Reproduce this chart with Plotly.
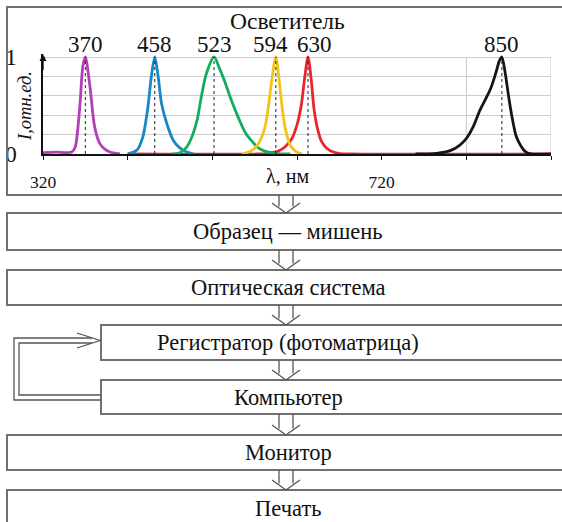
import plotly.graph_objects as go

W, H = 562, 522
SERIF = "Liberation Serif, Times New Roman, serif"

# ---------------- data ----------------
peak_labels = [370, 458, 523, 594, 630, 850]

purple_nm = [320, 335, 354, 358, 361, 364, 367, 370, 375, 381, 387, 393, 399, 411]
purple_I = [0.015, 0.02, 0.02, 0.07, 0.25, 0.55, 0.9, 1.0, 0.73, 0.28, 0.11, 0.05, 0.02, 0.0]

blue_nm = [420, 431, 438, 444, 448, 452, 456, 460, 466, 474, 482, 490, 498]
blue_I = [0.0, 0.04, 0.18, 0.49, 0.8, 1.0, 0.8, 0.52, 0.32, 0.14, 0.06, 0.02, 0.0]

green_nm = [472, 478, 484, 490, 496, 502, 507, 513, 522, 529, 535, 543, 551, 559, 567, 574, 582, 594, 612]
green_I = [0.0, 0.005, 0.025, 0.075, 0.18, 0.35, 0.59, 0.83, 1.0, 0.87, 0.74, 0.54, 0.37, 0.22, 0.13, 0.065, 0.03, 0.007, 0.0]

yellow_nm = [555, 563, 570, 576, 582, 586, 590, 595, 599, 603, 607, 612, 618, 626]
yellow_I = [0.0, 0.02, 0.06, 0.13, 0.27, 0.47, 0.75, 1.0, 0.75, 0.44, 0.23, 0.09, 0.03, 0.0]

red_nm = [420, 574, 586, 598, 606, 614, 620, 625, 629, 633, 637, 640, 644, 649, 655, 663, 671, 683, 920]
red_I = [0.0, 0.0, 0.007, 0.03, 0.075, 0.16, 0.3, 0.5, 0.78, 1.0, 0.75, 0.47, 0.27, 0.13, 0.06, 0.02, 0.005, 0.0, 0.0]

black_nm = [760, 785, 801, 812, 820, 828, 836, 843, 849, 855, 859, 862, 866, 870, 874, 879, 885, 891, 897, 920]
black_I = [0.0, 0.007, 0.035, 0.09, 0.16, 0.28, 0.45, 0.57, 0.68, 0.84, 0.96, 1.0, 0.83, 0.59, 0.38, 0.18, 0.075, 0.015, 0.0, 0.0]

x_ticks = [320, 420, 520, 620, 720, 820, 920]
x_ticktext = ["320", "", "", "", "720", "", ""]
y_ticks = [0, 0.2, 0.4, 0.6, 0.8, 1.0]
y_ticktext = ["0", "", "", "", "", "1"]

flow_labels = ["Образец — мишень", "Оптическая система", "Регистратор (фотоматрица)",
               "Компьютер", "Монитор", "Печать"]

# ---------------- layout geometry (pixels) ----------------
def px(x):
    return x / W

def py(y):
    return 1 - y / H

series = [
    (red_nm, red_I, "#e8252d"),
    (purple_nm, purple_I, "#b23fb4"),
    (blue_nm, blue_I, "#1787c7"),
    (green_nm, green_I, "#12ad5e"),
    (yellow_nm, yellow_I, "#f2c318"),
    (black_nm, black_I, "#151515"),
]
label_series = [purple_nm, blue_nm, green_nm, yellow_nm, red_nm, black_nm]
label_vals = [purple_I, blue_I, green_I, yellow_I, red_I, black_I]
label_shift = [0, 0, 0, -5, 6, 0]

fig = go.Figure()
for xs, ys, col in series:
    fig.add_trace(go.Scatter(x=xs, y=ys, mode="lines",
                             line=dict(color=col, width=2.8, shape="spline", smoothing=0.8),
                             hoverinfo="skip"))

shapes = []
annotations = []

def text_at(x, y, text, size, **kw):
    d = dict(x=px(x), y=py(y), xref="paper", yref="paper", text=text, showarrow=False,
             xanchor="center", yanchor="middle",
             font=dict(family=SERIF, size=size, color="#111"))
    d.update(kw)
    annotations.append(d)

# dotted lines and peak labels
for lab, xs, ys, sh in zip(peak_labels, label_series, label_vals, label_shift):
    i = ys.index(max(ys))
    xp = xs[i]
    shapes.append(dict(type="line", xref="x", yref="y", x0=xp, x1=xp, y0=0, y1=1,
                       line=dict(color="#222", width=1, dash="dot"), layer="above"))
    annotations.append(dict(x=xp, y=1, xref="x", yref="y", text=str(lab), showarrow=False,
                            xanchor="center", yanchor="bottom", yshift=-2, xshift=sh,
                            font=dict(family=SERIF, size=23, color="#111")))

# right border and vertical grid line
for xv in (820, 920):
    shapes.append(dict(type="line", xref="x", yref="y", x0=xv, x1=xv, y0=0, y1=1,
                       line=dict(color="#c9c9c9", width=1), layer="below"))

# y-axis arrow
annotations.append(dict(x=320, y=1.03, xref="x", yref="y", ax=320, ay=0.85, axref="x", ayref="y",
                        text="", showarrow=True, arrowhead=2, arrowsize=1, arrowwidth=1.4,
                        arrowcolor="#111", standoff=0))

BOX = "#707070"
# top box
shapes.append(dict(type="rect", xref="paper", yref="paper", x0=px(7), x1=px(600), y0=py(195), y1=py(7),
                   line=dict(color=BOX, width=2)))

text_at(287, 21, "Осветитель", 23.5)
text_at(287, 176, "λ, нм", 20)
text_at(25, 106, "<i>I,отн.ед.</i>", 18.5, textangle=-90)

# flow boxes
box_geo = [(7, 213, 250), (7, 270, 305), (101, 325, 360), (101, 380, 414), (7, 435, 470), (7, 490, 532)]
for lab, (x0, t, b) in zip(flow_labels, box_geo):
    shapes.append(dict(type="rect", xref="paper", yref="paper", x0=px(x0), x1=px(600),
                       y0=py(b), y1=py(t), line=dict(color=BOX, width=2)))
    ty = (t + b) / 2 if b < 522 else 508
    text_at(288, ty, lab, 22.5)

def path(points):
    return "M " + " L ".join(f"{px(a):.5f},{py(b):.5f}" for a, b in points)

# hollow down arrows
gaps = [(195, 213), (250, 270), (305, 325), (360, 380), (414, 435), (470, 490)]
cx = 286
for t, b in gaps:
    hy = b - 10
    for p in ([(cx - 7, t), (cx - 7, hy + 3.5)], [(cx + 7, t), (cx + 7, hy + 3.5)],
              [(cx - 14, hy), (cx, b), (cx + 14, hy)]):
        shapes.append(dict(type="path", xref="paper", yref="paper", path=path(p),
                           line=dict(color="#555", width=1.3)))

# feedback loop (double line)
loop_paths = [
    [(101, 400), (14, 400), (14, 338), (92, 338)],
    [(101, 395), (19, 395), (19, 343), (92, 343)],
    [(77, 333), (100, 340.5), (77, 348)],
]
for p in loop_paths:
    shapes.append(dict(type="path", xref="paper", yref="paper", path=path(p),
                       line=dict(color="#555", width=1.3)))

fig.update_layout(
    template="none",
    width=W, height=H, margin=dict(l=0, r=0, t=0, b=0, pad=0, autoexpand=False),
    paper_bgcolor="white", plot_bgcolor="white", showlegend=False,
    shapes=shapes, annotations=annotations,
    xaxis=dict(domain=[px(43), px(551)], range=[320, 920], tickvals=x_ticks, ticktext=x_ticktext,
               ticks="outside", ticklen=4, tickcolor="#111", tickwidth=1.3,
               showline=True, linecolor="#111", linewidth=1.5, showgrid=False, zeroline=False,
               tickfont=dict(family=SERIF, size=17.5, color="#111"), ticklabelstandoff=7,
               layer="below traces", automargin=False, fixedrange=True),
    yaxis=dict(domain=[py(154), py(54.09)], range=[0, 1.03], tickvals=y_ticks, ticktext=y_ticktext,
               ticks="", showline=True, linecolor="#111", linewidth=1.5,
               showgrid=True, gridcolor="#cdcdcd", gridwidth=1, zeroline=False,
               tickfont=dict(family=SERIF, size=23, color="#111"), ticklabelstandoff=20,
               automargin=False, fixedrange=True),
)

fig.write_html("out.html", config={"displayModeBar": False},
               post_script="document.body.style.margin='0';document.body.style.overflow='hidden';")
